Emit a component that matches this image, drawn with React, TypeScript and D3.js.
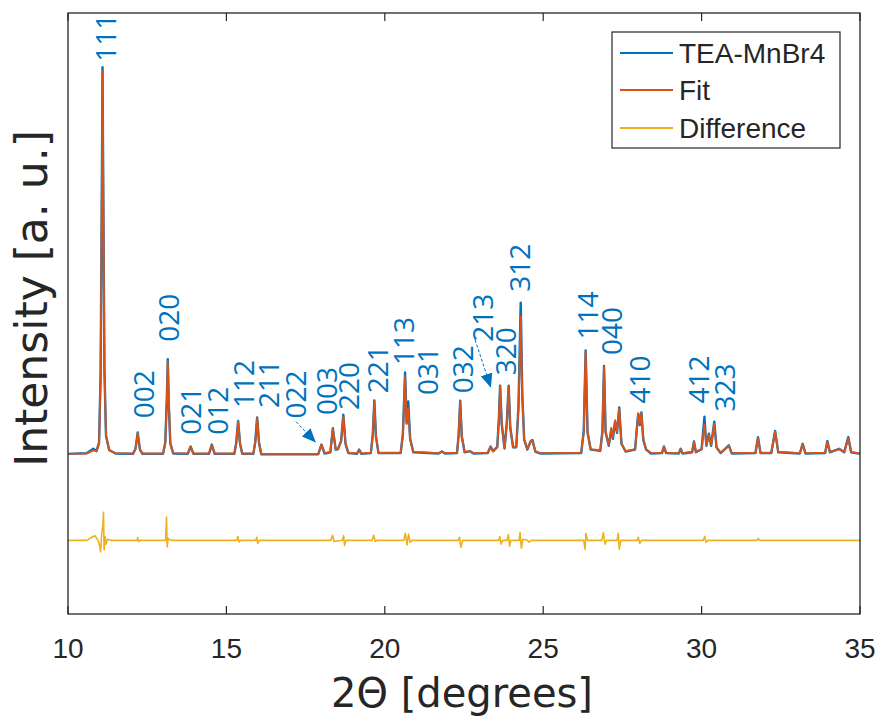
import React from "react";
import * as d3 from "d3";

// ---------- data ----------
const PATTERN_X = [
  10.0, 10.6, 10.8, 10.9, 10.98, 11.03, 11.07, 11.09, 11.11, 11.15, 11.2, 11.3, 11.5,
  12.05, 12.13, 12.2, 12.27, 12.35,
  13.0, 13.07, 13.12, 13.15, 13.18, 13.23, 13.32,
  13.78, 13.87, 13.96, 14.45, 14.54, 14.63,
  15.25, 15.31, 15.37, 15.43, 15.5, 15.85, 15.91, 15.97, 16.03, 16.1,
  17.9, 18.0, 18.1, 18.28, 18.36, 18.45, 18.52, 18.62, 18.69, 18.76, 18.85,
  19.12, 19.19, 19.26, 19.56, 19.62, 19.67, 19.72, 19.8,
  20.5, 20.57, 20.64, 20.69, 20.74, 20.8, 20.9,
  21.7, 21.8, 21.9, 22.28, 22.33, 22.38, 22.43, 22.52, 22.69, 22.8,
  23.25, 23.34, 23.42, 23.55, 23.6, 23.64, 23.69, 23.78, 23.85, 23.91, 23.96, 24.05,
  24.15, 24.22, 24.29, 24.34, 24.4, 24.5, 24.6, 24.66, 24.75, 24.9,
  26.2, 26.28, 26.34, 26.4, 26.5, 26.8, 26.87, 26.92, 26.97, 27.07,
  27.15, 27.2, 27.27, 27.33, 27.4, 27.47, 27.6,
  27.9, 27.97, 28.0, 28.05, 28.1, 28.16, 28.25, 28.4,
  28.75, 28.81, 28.88, 29.28, 29.34, 29.4, 29.7, 29.76, 29.82,
  30.0, 30.09, 30.15, 30.23, 30.3, 30.4, 30.47, 30.6, 30.86, 30.95,
  31.7, 31.78, 31.86, 32.2, 32.32, 32.42, 33.1, 33.19, 33.28,
  33.9, 33.97, 34.05, 34.34, 34.5, 34.63, 34.72, 35.0,
];

const OBSERVED_Y = [
  0.3, 0.5, 1.6, 1.0, 3.2, 21, 71, 100, 73, 22, 5, 1.3, 0.4,
  0.3, 1.6, 5.8, 1.4, 0.3,
  0.3, 3.2, 14.5, 24.7, 13.5, 3, 0.4,
  0.3, 2.2, 0.3, 0.3, 2.7, 0.3,
  0.3, 3.1, 8.8, 3, 0.3, 0.3, 3.3, 9.7, 3.1, 0.2,
  0.2, 2.7, 0.4, 0.7, 6.9, 1.4, 1.5, 3.6, 10.4, 2.9, 0.5,
  0.3, 1.4, 0.3, 0.5, 5.2, 14.1, 4.8, 0.5,
  0.5, 5.3, 21.3, 8.3, 13.8, 4.2, 0.7,
  0.4, 0.9, 0.4, 0.5, 5.1, 14.0, 4.8, 0.7, 1.0, 0.4,
  0.5, 2.2, 1.0, 2.1, 9.2, 17.9, 8.1, 1.7, 8.2, 17.9, 7.1, 2.0,
  2.0, 12.6, 39.3, 15.5, 4.0, 1.4, 3.5, 3.9, 0.9, 0.4,
  0.5, 6.2, 27.0, 5.8, 1.4, 1.1, 6.1, 23.0, 5.9, 2.4,
  6.6, 4.2, 8.6, 5.7, 12.3, 2.9, 0.9,
  1.4, 8.2, 10.6, 7.7, 11.0, 3.9, 1.4, 0.4,
  0.5, 2.2, 0.5, 0.4, 1.6, 0.4, 0.7, 3.5, 0.7,
  1.5, 9.9, 2.4, 5.5, 2.4, 8.6, 2.0, 0.5, 2.5, 0.4,
  0.5, 4.6, 0.5, 0.5, 6.2, 0.7, 0.4, 2.9, 0.4,
  0.5, 3.6, 0.7, 1.6, 0.7, 4.6, 0.7, 0.3,
];

const FIT_Y = [
  0.3, 0.4, 1.2, 1.0, 3.0, 20, 70, 99, 72, 22, 5, 1.2, 0.5,
  0.4, 1.5, 5.6, 1.5, 0.4,
  0.4, 3, 14, 24.2, 14, 3, 0.5,
  0.4, 2.1, 0.4, 0.4, 2.6, 0.4,
  0.4, 3, 8.6, 3, 0.4, 0.4, 3.2, 9.5, 3.2, 0.3,
  0.3, 2.6, 0.5, 0.8, 6.7, 1.5, 1.5, 3.5, 9.9, 3, 0.6,
  0.4, 1.3, 0.4, 0.6, 5, 13.8, 5, 0.6,
  0.6, 5, 20.3, 8, 12, 4, 0.8,
  0.5, 0.9, 0.5, 0.6, 5, 13.8, 5, 0.8, 1.0, 0.5,
  0.6, 2.1, 1, 2, 9, 17.7, 8, 1.8, 8, 17.7, 7, 2,
  2, 12, 35.7, 15, 4, 1.5, 3.5, 3.7, 1, 0.5,
  0.6, 6, 26.7, 6, 1.5, 1.2, 6, 22.7, 6, 2.5,
  7, 4.5, 9, 6, 12, 3, 1,
  1.5, 8, 10.8, 8, 10.8, 4, 1.5, 0.5,
  0.6, 2.1, 0.6, 0.5, 1.5, 0.5, 0.8, 3.3, 0.8,
  1.5, 7.8, 2.5, 5.2, 2.5, 8, 2, 0.6, 2.4, 0.5,
  0.6, 4.4, 0.6, 0.6, 6.0, 0.8, 0.5, 2.8, 0.5,
  0.6, 3.3, 0.8, 1.5, 0.8, 4.3, 0.8, 0.4,
];

const DIFF_X = [
  10.0, 10.6, 10.75, 10.85, 10.95, 11.0, 11.03, 11.06, 11.1, 11.12, 11.14, 11.17, 11.2, 11.25, 11.35,
  12.18, 12.2, 12.23, 12.28,
  13.08, 13.11, 13.13, 13.16, 13.25,
  15.33, 15.36, 15.4, 15.45, 15.93, 15.96, 15.99, 16.04,
  18.3, 18.35, 18.4, 18.66, 18.7, 18.73, 18.78,
  19.6, 19.65, 19.7, 19.75,
  20.6, 20.65, 20.7, 20.75, 20.8, 20.86,
  22.32, 22.36, 22.4, 22.46,
  23.6, 23.63, 23.67, 23.72, 23.86, 23.9, 23.94, 23.98,
  24.24, 24.27, 24.31, 24.36, 24.5, 24.55, 24.62,
  26.28, 26.32, 26.35, 26.4, 26.85, 26.9, 26.95, 27.0,
  27.33, 27.37, 27.4, 27.45, 27.97, 28.0, 28.05, 28.1,
  30.05, 30.1, 30.14, 30.2, 31.75, 31.79, 31.83, 35.0,
];

const DIFF_Y = [
  0, 0, 0.8, 1.2, 0, -1.5, -3.0, 1.5, 4, 7.2, -2.5, 1, -1, 0.3, 0,
  0, 0.7, -0.3, 0,
  0, 6, -1.7, 0.5, 0,
  0, 1, -0.4, 0, 0, 0.8, -0.8, 0,
  0, 1.3, -0.3, 0, 1.2, -1.3, 0,
  0, 1.3, -0.3, 0,
  0, 1.8, -1.2, 1.6, -0.5, 0,
  0, 0.8, -1.8, 0,
  0, 1, -1, 0, 0, 1.5, -1.5, 0,
  0, 2, -2, 0.3, 0, -0.5, 0,
  0, -2.3, 1.8, 0, 0, 2, -1, 0,
  0, 1.8, -2.3, 0, 0, 0.8, -0.8, 0,
  0, 1, -0.5, 0, 0, 0.5, 0, 0,
];

const PEAK_LABELS = ["111", "002", "020", "021", "012", "112", "211", "022", "003", "220", "221", "113", "031", "032", "213", "320", "312", "114", "040", "410", "412", "323"];
const PEAK_LABEL_X = [11.17, 12.36, 13.15, 13.85, 14.69, 15.53, 16.32, 17.17, 18.14, 18.85, 19.74, 20.58, 21.32, 22.43, 23.06, 23.79, 24.25, 26.37, 27.13, 28.03, 29.9, 30.71];
const PEAK_LABEL_Y = [101.4, 9.5, 29.2, 5.2, 5.2, 12.1, 12.1, 9.4, 10.3, 11.6, 15.9, 23.2, 15.5, 15.9, 29.2, 20.6, 42.1, 29.8, 25.8, 13.3, 13.3, 11.2];

// arrows: [x1, y1, x2, y2]
const ARROWS = [
  [17.2, 8.6, 17.8, 3.4],
  [22.85, 29.7, 23.34, 17.6],
];

const X_TICKS = [10, 15, 20, 25, 30, 35];
const SERIES_NAMES = ["TEA-MnBr4", "Fit", "Difference"];
const SERIES_COLORS = ["#0072BD", "#D95319", "#EDB120"];
const DIFF_OFFSET = -22;

// ---------- layout ----------
const W = 878;
const H = 717;
const LEFT = 68;
const RIGHT = 860;
const TOP = 13;
const BOTTOM = 614;
const AXIS_COLOR = "#262626";

export default function App() {
  const x = d3.scaleLinear().domain([10, 35]).range([LEFT, RIGHT]);
  const y = d3.scaleLinear().domain([-41, 114]).range([BOTTOM, TOP]);

  const line = d3
    .line<[number, number]>()
    .x((d) => x(d[0]))
    .y((d) => y(d[1]));

  const obs: [number, number][] = PATTERN_X.map((v, i) => [v, OBSERVED_Y[i]]);
  const fit: [number, number][] = PATTERN_X.map((v, i) => [v, FIT_Y[i]]);
  const diff: [number, number][] = DIFF_X.map((v, i) => [v, DIFF_Y[i] + DIFF_OFFSET]);

  const legendX = 612;
  const legendY = 32;
  const legendW = 228;
  const legendH = 116;
  const rowY = [53, 90, 128];

  return (
    <svg
      width={W}
      height={H}
      style={{ position: "absolute", left: 0, top: 0, background: "#fff" }}
    >
      <defs>
        <marker
          id="arrowhead"
          markerUnits="userSpaceOnUse"
          markerWidth={14}
          markerHeight={12}
          refX={13}
          refY={6}
          orient="auto"
        >
          <path d="M0,0 L14,6 L0,12 Z" fill="#0072BD" />
        </marker>
      </defs>
      <rect x={0} y={0} width={W} height={H} fill="#fff" />

      {/* curves */}
      <path d={line(obs) || ""} fill="none" stroke={SERIES_COLORS[0]} strokeWidth={2.4} strokeLinejoin="round" />
      <path d={line(fit) || ""} fill="none" stroke={SERIES_COLORS[1]} strokeWidth={1.9} strokeLinejoin="round" />
      <path d={line(diff) || ""} fill="none" stroke={SERIES_COLORS[2]} strokeWidth={1.6} strokeLinejoin="round" />

      {/* peak labels */}
      {PEAK_LABELS.map((t, i) => (
        <text
          key={t + i}
          transform={`translate(${x(PEAK_LABEL_X[i])},${y(PEAK_LABEL_Y[i])}) rotate(-90)`}
          textAnchor="start"
          dominantBaseline="central"
          fontFamily="'Open Sans', 'Noto Sans', sans-serif"
          fontSize={28}
          fill="#0072BD"
        >
          {t}
        </text>
      ))}

      {/* arrows */}
      {ARROWS.map((a, i) => (
        <line
          key={i}
          x1={x(a[0])}
          y1={y(a[1])}
          x2={x(a[2])}
          y2={y(a[3])}
          stroke="#0072BD"
          strokeWidth={1}
          strokeDasharray="3,2"
          markerEnd="url(#arrowhead)"
        />
      ))}

      {/* frame */}
      <rect
        x={LEFT}
        y={TOP}
        width={RIGHT - LEFT}
        height={BOTTOM - TOP}
        fill="none"
        stroke={AXIS_COLOR}
        strokeWidth={1.3}
      />
      {X_TICKS.map((t) => (
        <g key={t}>
          <line x1={x(t)} x2={x(t)} y1={BOTTOM} y2={BOTTOM - 8} stroke={AXIS_COLOR} strokeWidth={1.2} />
          <line x1={x(t)} x2={x(t)} y1={TOP} y2={TOP + 8} stroke={AXIS_COLOR} strokeWidth={1.2} />
          <text
            x={x(t)}
            y={658}
            textAnchor="middle"
            fontFamily="'Liberation Sans', Arial, sans-serif"
            fontSize={28}
            fill={AXIS_COLOR}
          >
            {t}
          </text>
        </g>
      ))}

      {/* axis titles */}
      <text
        x={(LEFT + RIGHT) / 2 - 2}
        y={707}
        textAnchor="middle"
        fontFamily="'DejaVu Sans', sans-serif"
        fontSize={40}
        fill={AXIS_COLOR}
      >
        2Θ [degrees]
      </text>
      <text
        transform={`translate(47,${(TOP + BOTTOM) / 2 - 15}) rotate(-90)`}
        textAnchor="middle"
        fontFamily="'DejaVu Sans', sans-serif"
        fontSize={44}
        fill={AXIS_COLOR}
      >
        Intensity [a. u.]
      </text>

      {/* legend */}
      <rect x={legendX} y={legendY} width={legendW} height={legendH} fill="#fff" stroke={AXIS_COLOR} strokeWidth={1.2} />
      {SERIES_NAMES.map((n, i) => (
        <g key={n}>
          <line x1={620} x2={673} y1={rowY[i]} y2={rowY[i]} stroke={SERIES_COLORS[i]} strokeWidth={2} />
          <text
            x={679}
            y={rowY[i]}
            dominantBaseline="central"
            fontFamily="'Liberation Sans', Arial, sans-serif"
            fontSize={28}
            fill={AXIS_COLOR}
          >
            {n}
          </text>
        </g>
      ))}
    </svg>
  );
}
